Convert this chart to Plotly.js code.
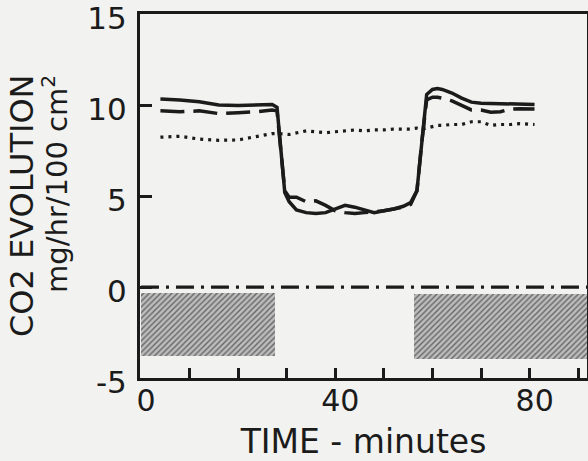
<!DOCTYPE html>
<html>
<head>
<meta charset="utf-8">
<script src="https://cdn.plot.ly/plotly-3.0.1.min.js"></script>
<style>
html,body{margin:0;padding:0;background:#f2f2f0;}
#chart{width:588px;height:461px;}
</style>
</head>
<body>
<div id="chart"></div>
<script>
// ---- data ----
var timeMin = [4, 8, 12, 16, 20, 24, 27, 28, 28.8, 29.6, 30.5, 32, 34, 36, 38, 40, 42, 44, 46, 48, 50, 52, 54, 55.5, 56.8, 57.8, 58.8, 60, 61, 62, 64, 66, 68, 70, 72, 74, 76, 78, 81];
var solidCO2 = [10.35, 10.3, 10.2, 10.02, 10.0, 10.05, 10.05, 9.9, 7.5, 5.2, 4.7, 4.25, 4.1, 4.05, 4.1, 4.3, 4.5, 4.4, 4.25, 4.1, 4.2, 4.3, 4.45, 4.65, 5.3, 8.0, 10.6, 10.88, 10.93, 10.88, 10.68, 10.4, 10.18, 10.12, 10.1, 10.1, 10.08, 10.08, 10.05];
var dashedCO2 = [9.7, 9.65, 9.7, 9.55, 9.6, 9.65, 9.75, 9.7, 7.5, 5.3, 4.95, 4.95, 4.7, 4.75, 4.5, 4.2, 4.1, 4.05, 4.1, 4.15, 4.2, 4.3, 4.4, 4.55, 5.3, 8.0, 10.3, 10.45, 10.45, 10.4, 10.25, 10.0, 9.75, 9.75, 9.62, 9.65, 9.8, 9.82, 9.8];
var dottedCO2 = [8.25, 8.3, 8.15, 8.08, 8.1, 8.3, 8.45, 8.45, 8.45, 8.42, 8.4, 8.5, 8.6, 8.55, 8.5, 8.55, 8.6, 8.65, 8.6, 8.65, 8.65, 8.7, 8.7, 8.7, 8.75, 8.7, 8.75, 8.85, 8.9, 8.9, 8.95, 8.95, 9.1, 9.1, 8.9, 8.95, 8.95, 9.0, 8.95];
var baselineTime = [0, 93];
var baselineValue = [0, 0];
var darkStart = [0, 56.2];
var darkEnd = [27.6, 93];
var darkTop = [-0.3, -0.38];
var darkBottom = [-3.8, -3.95];
var xTickVals = [0, 40, 80];
var xTickText = ['0', '40', '80'];
var xMinorStep = 10;
var yTickVals = [-5, 0, 5, 10, 15];
var yTickText = ['-5', '0', '5', '10', '15'];
var yTitle1 = 'CO2 EVOLUTION';
var yTitle2 = 'mg/hr/100 cm<sup>2</sup>';
var xTitle = 'TIME - minutes';

// ---- traces ----
var ink = '#1b1b1b';
var FONT = 'DejaVu Sans';
var darkMid = darkStart.map(function(s, i){ return (s + darkEnd[i]) / 2; });
var darkWidth = darkStart.map(function(s, i){ return darkEnd[i] - s; });
var darkHeight = darkTop.map(function(t, i){ return t - darkBottom[i]; });

var traces = [
  {type:'bar', x: darkMid, width: darkWidth, base: darkBottom, y: darkHeight,
   marker:{color:'#b0b0b0', line:{width:0},
     pattern:{shape:'/', fgcolor:'#666666', bgcolor:'#bdbdbd', size:4, solidity:0.35}},
   hoverinfo:'skip', showlegend:false},
  {type:'scatter', mode:'lines', x: baselineTime, y: baselineValue,
   line:{color: ink, width:3.2, dash:'18px,7px,3px,7px'}, showlegend:false},
  {type:'scatter', mode:'lines', x: timeMin, y: dottedCO2,
   line:{color: ink, width:3.2, dash:'3px,5px'}, showlegend:false},
  {type:'scatter', mode:'lines', x: timeMin, y: dashedCO2,
   line:{color: ink, width:3.5, dash:'24px,9px'}, showlegend:false},
  {type:'scatter', mode:'lines', x: timeMin, y: solidCO2,
   line:{color: ink, width:3.5}, showlegend:false}
];

var layout = {
  width: 588, height: 461,
  margin: {l:140, r:1, t:14, b:83},
  paper_bgcolor:'#f2f2f0', plot_bgcolor:'#f2f2f0',
  font: {family: FONT, color: ink},
  showlegend: false,
  bargap: 0,
  xaxis: {
    range: [-0.2, 91.8], showgrid:false, zeroline:false,
    showline:true, linewidth:3, linecolor: ink, mirror:true,
    tickmode:'array', tickvals: xTickVals, ticktext: xTickText,
    ticks:'inside', ticklen:10, tickwidth:3, tickcolor: ink,
    minor:{dtick: xMinorStep, tick0: 0, ticks:'inside', ticklen:10, tickwidth:3, tickcolor: ink, showgrid:false},
    tickfont:{size:30, family: FONT, color: ink},
    ticklabelstandoff: -6, ticklabelshift: 5, ticklabeloverflow:'allow',
    title:{text: xTitle, font:{size:33, family: FONT, color: ink}, standoff: 14}
  },
  yaxis: {
    range: [-5, 15.03], showgrid:false, zeroline:false,
    showline:true, linewidth:3, linecolor: ink, mirror:true,
    tickmode:'array', tickvals: yTickVals, ticktext: yTickText,
    ticks:'inside', ticklen:12, tickwidth:3, tickcolor: ink,
    tickfont:{size:31, family: FONT, color: ink},
    ticklabelstandoff: 4, ticklabelshift: 4, ticklabeloverflow:'allow'
  },
  annotations: [
    {xref:'paper', yref:'paper', x:(22-140)/447, y:(378-206)/364, text: yTitle1,
     textangle:-90, showarrow:false, xanchor:'center', yanchor:'middle',
     font:{size:32, family: FONT, color: ink}},
    {xref:'paper', yref:'paper', x:(55-140)/447, y:(378-184)/364, text: yTitle2,
     textangle:-90, showarrow:false, xanchor:'center', yanchor:'middle',
     font:{size:29, family: FONT, color: ink}}
  ]
};

Plotly.newPlot('chart', traces, layout, {staticPlot:true, displayModeBar:false});
</script>
</body>
</html>
